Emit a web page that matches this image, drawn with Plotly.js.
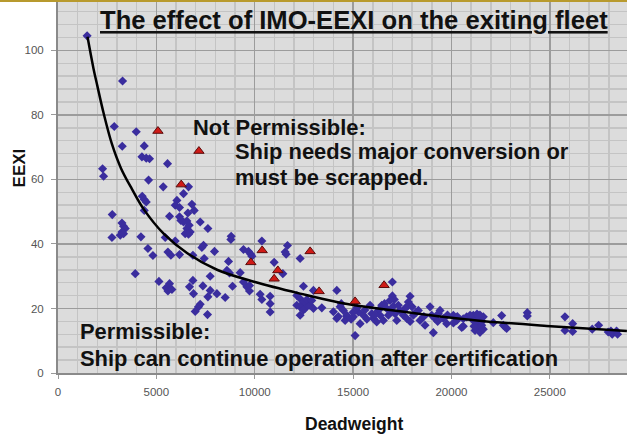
<!DOCTYPE html>
<html>
<head>
<meta charset="utf-8">
<script src="https://cdn.plot.ly/plotly-3.0.1.min.js"></script>
<style>
  html, body { margin: 0; padding: 0; background: #ffffff; }
  #chart { position: absolute; left: 0; top: 0; width: 627px; height: 434px; }
  #bar { position: absolute; left: 0; top: 0; width: 627px; height: 2px; background: #b89a2e; z-index: 10; }
</style>
</head>
<body>
<div id="chart"></div>
<div id="bar"></div>
<script>
// Existing ships: deadweight vs attained EEXI
const shipDwt = [
  1480, 3282, 2860, 3978, 3266, 4384, 4267, 4486, 4653, 5568,
  2266, 2317, 4603, 5349, 6635, 6381, 4282, 4384, 4486, 6045,
  5959, 6178, 6807, 6924, 6604, 4384, 2758, 5670, 6178, 6248,
  6381, 6553, 7229, 6670, 6553, 6467, 6721, 6635, 7620, 3251,
  3333, 3419, 3251, 3165, 2743, 3333, 4216, 5451, 5959, 7397,
  7315, 4572, 4826, 5588, 5740, 6178, 6858, 7432, 3927, 5131,
  5670, 5502, 5588, 5791, 6858, 6685, 6889, 7366, 7620, 7229,
  7143, 6975, 7600,
  8804, 8788, 7955, 10363, 9429, 9683, 9804, 9855, 11665, 11547,
  11598, 12309, 10989, 11430, 8669, 8587, 8720, 9261, 7737, 8872,
  9429, 9601, 9735, 9735, 7737, 8077, 8499, 10277, 10363, 10785,
  10785, 10785, 12477, 12985, 14173, 12140, 12309, 12477, 12650, 12140,
  12309, 12560, 12800, 12985, 12309, 12650, 12900, 13411, 14341, 14681,
  14173, 12470, 14000, 14250, 14400,
  16998, 16998, 17099, 17897, 17811, 17643,
  14509, 14681, 14595, 15017, 15271, 15357, 15525, 15865, 15951, 16032,
  16286, 16372, 16459, 16540, 16713, 16794, 16881, 17049, 17134, 17221,
  17389, 17556, 17729, 17729, 18064, 18318, 18405, 18659, 18913, 19000,
  19167, 19334, 19421, 19588, 19761, 20097, 20269, 20605, 20777, 21112,
  21285, 21453, 21620,
  15103, 19081, 20523,
  15600, 15200, 16100, 16600, 16900, 17300, 17500, 18200, 18600, 18000,
  19300, 19800, 20300, 20600, 20100, 17900, 16200, 15700, 15000, 14900,
  21032, 21112, 21285, 21367, 21453, 21200, 21540, 20946, 21453, 21620,
  21300, 21450, 21150, 21350, 21550,
  22555, 22723, 22128, 22636, 22808, 23857, 23857, 25771, 25771, 26163,
  26163, 27158, 27483, 27970, 28174, 28394, 28445, 28107
];
const shipEexi = [
  104.5, 90.5, 76.4, 74.8, 70.3, 70.4, 67.0, 66.6, 66.4, 64.9,
  63.3, 61.0, 59.8, 57.7, 57.7, 55.6, 54.8, 53.8, 53.0, 53.5,
  52.0, 51.3, 52.3, 50.4, 49.6, 50.4, 49.1, 48.6, 48.4, 47.3,
  46.8, 47.1, 46.8, 45.8, 44.8, 43.2, 43.7, 43.0, 44.8, 46.5,
  45.5, 44.8, 43.7, 42.7, 42.0, 43.2, 42.2, 42.0, 40.9, 39.6,
  38.9, 38.6, 36.4, 37.5, 36.5, 36.7, 36.5, 35.5, 30.8, 28.4,
  27.7, 26.4, 25.4, 25.9, 28.7, 26.7, 24.6, 27.0, 23.6, 21.3,
  20.5, 19.1, 18.1,
  42.4, 41.4, 37.7, 40.9, 38.3, 37.7, 36.8, 36.2, 39.5, 37.5,
  36.8, 35.5, 34.3, 30.8, 34.6, 31.8, 31.0, 31.1, 30.0, 26.9,
  28.2, 26.7, 27.1, 25.4, 25.6, 24.6, 23.4, 24.4, 22.8, 23.8,
  21.5, 18.9, 26.9, 25.6, 25.6, 24.0, 23.0, 22.0, 21.5, 21.0,
  20.5, 20.0, 21.0, 20.0, 17.9, 22.8, 22.5, 20.2, 20.5, 17.4,
  16.9, 19.5, 19.0, 17.5, 21.5,
  28.2, 23.9, 22.8, 23.8, 22.0, 20.0,
  19.4, 17.9, 16.3, 17.4, 18.9, 15.3, 17.9, 21.0, 18.4, 16.9,
  19.4, 17.9, 21.0, 16.3, 20.0, 17.9, 22.5, 20.7, 18.4, 16.3,
  19.4, 17.9, 20.5, 16.9, 17.9, 19.4, 16.3, 14.8, 20.5, 17.9,
  16.9, 18.4, 19.4, 16.9, 15.3, 17.9, 16.3, 14.5, 17.4, 17.9,
  16.9, 15.8, 17.4,
  11.6, 12.5, 14.1,
  19.5, 20.2, 18.0, 21.5, 19.5, 21.0, 18.8, 18.8, 17.5, 20.5,
  16.0, 18.0, 17.5, 16.8, 15.5, 16.0, 15.8, 16.7, 18.8, 16.7,
  17.4, 16.3, 15.3, 13.8, 16.9, 13.2, 14.8, 17.9, 12.6, 13.6,
  18.3, 18.0, 14.5, 17.8, 16.0,
  17.8, 14.3, 15.6, 14.8, 13.8, 18.7, 17.7, 17.4, 13.2, 15.3,
  12.9, 13.6, 14.8, 12.7, 12.0, 13.0, 12.0, 13.0
];

// Highlighted ships (red triangles)
const flagDwt  = [5080, 7163, 6264, 10379, 9804, 12817, 11176, 10989, 13274, 15103, 16576];
const flagEexi = [75.0, 68.8, 58.4, 38.0, 34.3, 37.7, 31.8, 29.2, 25.3, 22.2, 27.2];

// Reference line points
const refDwt  = [1500, 1800, 2000, 2320, 2740, 3200, 3760, 4354, 5370, 6558, 8082, 10012, 12314, 14341, 16881, 19421, 21793, 24841, 28920];
const refEexi = [104.2, 94.5, 89.0, 80.5, 71.0, 63.5, 57.0, 50.8, 43.2, 37.2, 32.0, 28.2, 24.6, 21.8, 19.5, 17.5, 16.0, 14.6, 13.0];

const xTickVals = [0, 5000, 10000, 15000, 20000, 25000];
const yTickVals = [0, 20, 40, 60, 80, 100];

const titleText = "The effect of IMO-EEXI on the exiting fleet";
const xTitle = "Deadweight";
const yTitle = "EEXI";
const notPermHead = "Not Permissible:";
const notPermLine1 = "Ship needs major conversion or";
const notPermLine2 = "must be scrapped.";
const permHead = "Permissible:";
const permLine = "Ship can continue operation after certification";

const FONT = '"Liberation Sans", Arial, Helvetica, sans-serif';

const traces = [
  {
    type: 'scatter', mode: 'markers', x: shipDwt, y: shipEexi,
    marker: { symbol: 'diamond', size: 7, color: '#3a2d9e' },
    hoverinfo: 'skip', showlegend: false
  },
  {
    type: 'scatter', mode: 'lines', x: refDwt, y: refEexi,
    line: { color: '#000000', width: 2.5, shape: 'spline', smoothing: 1 },
    hoverinfo: 'skip', showlegend: false
  },
  {
    type: 'scatter', mode: 'markers', x: flagDwt, y: flagEexi,
    marker: { symbol: 'triangle-up', size: 9, color: '#d01a16', line: { color: '#5a0d0d', width: 1 } },
    hoverinfo: 'skip', showlegend: false
  }
];

function txt(text, x, y, size, xanchor, extra) {
  return Object.assign({
    text: text, xref: 'paper', yref: 'paper', x: x, y: y,
    xanchor: xanchor, yanchor: 'middle', showarrow: false,
    font: { family: FONT, size: size, color: '#111111' }
  }, extra || {});
}

const layout = {
  width: 627, height: 434,
  margin: { l: 58, r: 0, t: 2, b: 61, pad: 0 },
  paper_bgcolor: '#ffffff',
  plot_bgcolor: '#dcdcdc',
  font: { family: FONT, color: '#555555', size: 11.5 },
  showlegend: false,
  xaxis: {
    range: [0, 28925], tickvals: xTickVals, ticktext: xTickVals.map(String),
    showgrid: true, gridcolor: '#9c9c9c', gridwidth: 1.5,
    minor: { dtick: 1000, showgrid: true, gridcolor: '#c4c4c4', gridwidth: 1.5 },
    zeroline: false, showline: true, linecolor: '#8a8a8a', linewidth: 2,
    ticks: 'outside', ticklen: 4, tickcolor: '#9a9a9a',
    ticklabelstandoff: 3,
    tickfont: { family: FONT, size: 11.5, color: '#555555' }
  },
  yaxis: {
    range: [0, 115], tickvals: yTickVals, ticktext: yTickVals.map(String),
    showgrid: true, gridcolor: '#9c9c9c', gridwidth: 1.5,
    minor: { dtick: 4, showgrid: true, gridcolor: '#c4c4c4', gridwidth: 1.5 },
    zeroline: false, showline: true, linecolor: '#8a8a8a', linewidth: 2,
    ticks: 'outside', ticklen: 5, tickcolor: '#9a9a9a',
    ticklabelstandoff: 5,
    tickfont: { family: FONT, size: 11.5, color: '#555555' }
  },
  annotations: [
    txt('<b><u>' + titleText + '</u></b>', 0.5206, 0.9528, 25.6, 'center'),
    txt('<b>' + notPermHead + '</b>', 0.2340, 0.6617, 21.9, 'left'),
    txt('<b>' + notPermLine1 + '</b>', 0.3083, 0.5962, 21.9, 'left'),
    txt('<b>' + notPermLine2 + '</b>', 0.3083, 0.5270, 21.9, 'left'),
    txt('<b>' + permHead + '</b>', 0.0360, 0.1110, 21.9, 'left'),
    txt('<b>' + permLine + '</b>', 0.0360, 0.0391, 21.9, 'left'),
    txt('<b>' + yTitle + '</b>', -0.066, 0.5526, 17, 'center', { textangle: -90 }),
    txt('<b>' + xTitle + '</b>', 0.5206, -0.1375, 17.5, 'center')
  ]
};

Plotly.newPlot('chart', traces, layout, { staticPlot: true, displayModeBar: false });
</script>
</body>
</html>
